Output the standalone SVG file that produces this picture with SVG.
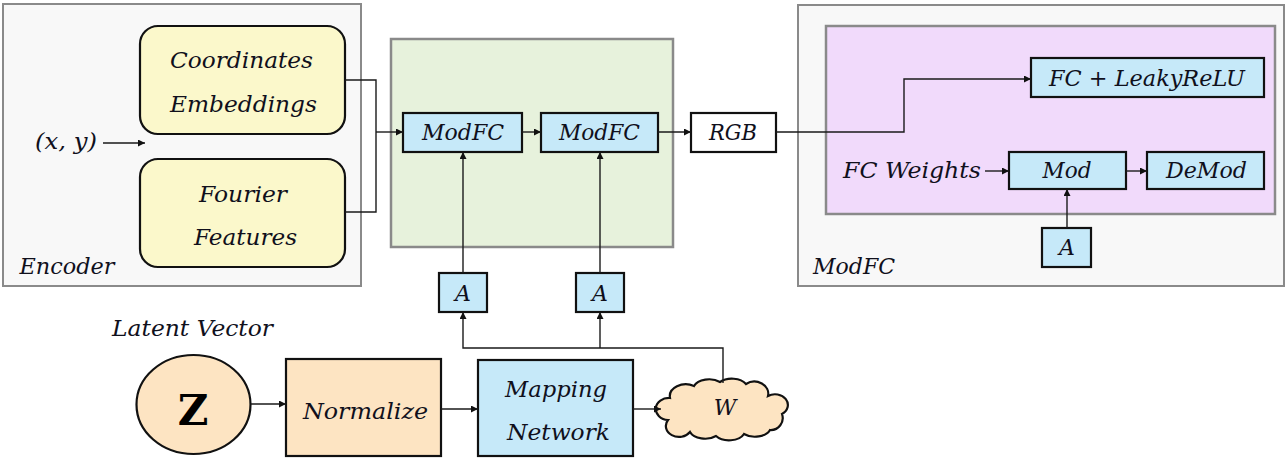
<svg xmlns="http://www.w3.org/2000/svg" width="1288" height="459" viewBox="0 0 1288 459">
<style>
text{font-family:"DejaVu Serif","Liberation Serif",serif;font-style:italic;fill:#10101c;font-size:22px;text-anchor:middle}
.outer{fill:#f8f8f8;stroke:#8a8a8a;stroke-width:2}
.green{fill:#e7f2dc;stroke:#8a8a8a;stroke-width:2.5}
.purple{fill:#f1dafb;stroke:#8a8a8a;stroke-width:2.5}
.blue{fill:#c6e9f9;stroke:#111;stroke-width:2.2}
.white{fill:#fff;stroke:#111;stroke-width:2.2}
.yellow{fill:#fbf8cb;stroke:#111;stroke-width:2.2}
.orange{fill:#fde4c2;stroke:#111;stroke-width:2.2}
.conn path{fill:none;stroke:#1a1a1a;stroke-width:1.4}
.arr{marker-end:url(#ah)}
</style>
<defs>
<marker id="ah" viewBox="0 0 10 10" refX="10" refY="5" markerWidth="7" markerHeight="7" markerUnits="userSpaceOnUse" orient="auto">
<path d="M0,0 L10,5 L0,10 Z" fill="#111"/>
</marker>
</defs>
<rect width="1288" height="459" fill="#fff"/>

<g id="encoder">
<rect class="outer" x="3" y="4" width="358" height="282"/>
<text x="67" y="274" textLength="95" lengthAdjust="spacingAndGlyphs">Encoder</text>
</g>
<g id="modfc-group">
<rect class="outer" x="798" y="5" width="486" height="281"/>
<text x="854" y="274" textLength="82" lengthAdjust="spacingAndGlyphs">ModFC</text>
</g>
<g id="green-block">
<rect class="green" x="391" y="39" width="282" height="208"/>
</g>
<g id="purple-block">
<rect class="purple" x="826" y="26" width="449" height="188"/>
</g>

<g id="coord-emb">
<rect class="yellow" x="140" y="26" width="205" height="108" rx="18"/>
<text x="241.5" y="68" textLength="143" lengthAdjust="spacingAndGlyphs">Coordinates</text>
<text x="243.5" y="112" textLength="147" lengthAdjust="spacingAndGlyphs">Embeddings</text>
</g>
<g id="fourier">
<rect class="yellow" x="140" y="159" width="205" height="108" rx="18"/>
<text x="243" y="202" textLength="88" lengthAdjust="spacingAndGlyphs">Fourier</text>
<text x="245.5" y="245" textLength="103" lengthAdjust="spacingAndGlyphs">Features</text>
</g>
<g id="xy">
<text x="66" y="149" textLength="62" lengthAdjust="spacingAndGlyphs">(x, y)</text>
</g>

<g id="modfc1">
<rect class="blue" x="403" y="113" width="119" height="39"/>
<text x="463" y="140" textLength="82" lengthAdjust="spacingAndGlyphs">ModFC</text>
</g>
<g id="modfc2">
<rect class="blue" x="541" y="113" width="117" height="39"/>
<text x="599.5" y="140" textLength="81" lengthAdjust="spacingAndGlyphs">ModFC</text>
</g>
<g id="rgb">
<rect class="white" x="691" y="113" width="85" height="39"/>
<text x="733" y="140" textLength="48" lengthAdjust="spacingAndGlyphs">RGB</text>
</g>

<g id="fc-leaky">
<rect class="blue" x="1031" y="58" width="233" height="39"/>
<text x="1147" y="86" textLength="196" lengthAdjust="spacingAndGlyphs">FC + LeakyReLU</text>
</g>
<g id="fc-weights">
<text x="912" y="178" textLength="138" lengthAdjust="spacingAndGlyphs">FC Weights</text>
</g>
<g id="mod">
<rect class="blue" x="1009" y="152" width="117" height="37"/>
<text x="1067" y="178" textLength="49" lengthAdjust="spacingAndGlyphs">Mod</text>
</g>
<g id="demod">
<rect class="blue" x="1147" y="152" width="117" height="37"/>
<text x="1206.5" y="178" textLength="81" lengthAdjust="spacingAndGlyphs">DeMod</text>
</g>
<g id="a3">
<rect class="blue" x="1042" y="228" width="49" height="39"/>
<text x="1067" y="255">A</text>
</g>

<g id="a1">
<rect class="blue" x="439" y="273" width="48" height="39"/>
<text x="463" y="301">A</text>
</g>
<g id="a2">
<rect class="blue" x="576" y="273" width="48" height="39"/>
<text x="600" y="301">A</text>
</g>

<g id="latent">
<text x="192.5" y="336" textLength="161" lengthAdjust="spacingAndGlyphs">Latent Vector</text>
</g>
<g id="z">
<ellipse cx="193.5" cy="404.5" rx="57" ry="49.5" class="orange"/>
<text x="193" y="425" style="font-size:42px;font-weight:bold;font-style:normal;fill:#000">Z</text>
</g>
<g id="normalize">
<rect class="orange" x="286" y="359" width="155" height="97"/>
<text x="365.5" y="419" textLength="125" lengthAdjust="spacingAndGlyphs">Normalize</text>
</g>
<g id="mapping">
<rect class="blue" x="478" y="360" width="155" height="96"/>
<text x="556" y="397" textLength="102" lengthAdjust="spacingAndGlyphs">Mapping</text>
<text x="558.5" y="440" textLength="103" lengthAdjust="spacingAndGlyphs">Network</text>
</g>
<g id="w">
<path class="orange" d="M668,420 a12,10 0 0 1 2,-22 a16,12 0 0 1 24,-12 a16,10 0 0 1 26,-4 a16,10 0 0 1 26,2 a14,12 0 0 1 22,12 a12,10 0 0 1 14,18 a12,12 0 0 1 -12,16 a16,10 0 0 1 -26,4 a16,10 0 0 1 -28,2 a16,10 0 0 1 -26,-4 a12,10 0 0 1 -22,-12 Z"/>
<text x="725" y="415">W</text>
</g>

<g id="connectors" class="conn">
<path class="arr" d="M103,143 H145"/>
<path d="M345,80 H376 V212 H345"/>
<path class="arr" d="M376,132 H403"/>
<path class="arr" d="M522,132 H541"/>
<path class="arr" d="M658,132 H691"/>
<path class="arr" d="M776,132 H904 V79 H1031"/>
<path class="arr" d="M985,171 H1009"/>
<path class="arr" d="M1126,171 H1147"/>
<path class="arr" d="M1067,228 V189"/>
<path class="arr" d="M463,273 V152"/>
<path class="arr" d="M600,273 V152"/>
<path class="arr" d="M723,383 V348 H463 V312"/>
<path class="arr" d="M600,348 V312"/>
<path class="arr" d="M251,404 H286"/>
<path class="arr" d="M441,409 H478"/>
<path class="arr" d="M633,409 H661"/>
</g>
</svg>
